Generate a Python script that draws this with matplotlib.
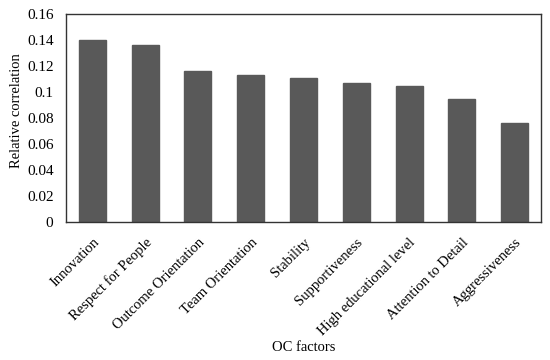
import matplotlib
matplotlib.use("Agg")
import matplotlib.pyplot as plt

categories = ["Innovation", "Respect for People", "Outcome Orientation", "Team Orientation",
              "Stability", "Supportiveness", "High educational level", "Attention to Detail",
              "Aggressiveness"]
values = [0.140, 0.136, 0.116, 0.113, 0.111, 0.107, 0.105, 0.095, 0.076]
yticks = [0, 0.02, 0.04, 0.06, 0.08, 0.1, 0.12, 0.14, 0.16]
ytick_labels = ["0", "0.02", "0.04", "0.06", "0.08", "0.1", "0.12", "0.14", "0.16"]

plt.rcParams['font.family'] = ['Liberation Serif', 'DejaVu Serif']

L, R, T, B = 66, 541, 14, 222
fig = plt.figure(figsize=(5.5, 3.6), dpi=100)
ax = fig.add_axes([L/550, 1-B/360, (R-L)/550, (B-T)/360])
x = range(len(categories))
ax.bar(x, values, width=0.51, color="#595959", edgecolor="#595959")
ax.set_xlim(-0.5, len(categories)-0.5)
ax.set_ylim(0, 0.16)
ax.set_yticks(yticks)
ax.set_yticklabels(ytick_labels, fontsize=11)
ax.set_xticks(list(x))
ax.set_xticklabels(categories, rotation=45, ha="right", rotation_mode="anchor", fontsize=10.5)
ax.tick_params(axis="y", length=0, pad=9)
ax.tick_params(axis="x", length=0, pad=10)
for s in ax.spines.values():
    s.set_color("#333333")
    s.set_linewidth(1.0)
ax.set_ylabel("Relative correlation", fontsize=10.5)
ax.set_xlabel("OC factors", fontsize=10.5)
ax.yaxis.set_label_coords((17-L)/(R-L), (B-110.5)/(B-T))
ax.xaxis.set_label_coords((303.5-L)/(R-L), -(348-B)/(B-T))
ax.xaxis.label.set_va("center")
ax.yaxis.label.set_va("center")
fig.savefig("out.png", dpi=100)
